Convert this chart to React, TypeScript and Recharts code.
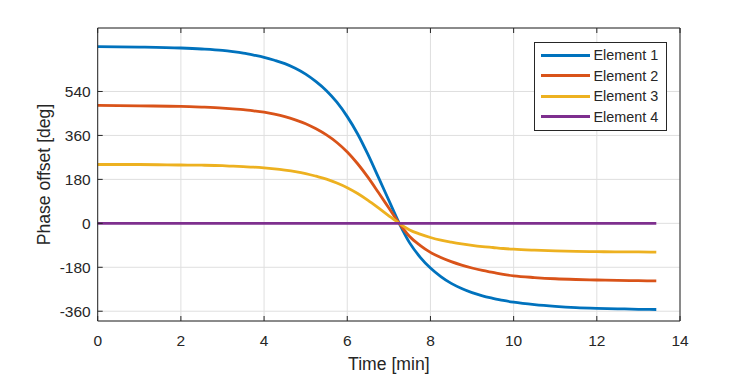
import { LineChart, Line, XAxis, YAxis, CartesianGrid } from 'recharts';

// time axis in minutes
const time = [0, 1, 2, 2.5, 3, 3.25, 3.5, 3.75, 4, 4.25, 4.5, 4.75, 5, 5.25, 5.5, 5.75, 6, 6.25, 6.5, 6.75, 7, 7.25, 7.5, 7.75, 8, 8.25, 8.5, 8.75, 9, 9.25, 9.5, 9.75, 10, 10.5, 11, 11.5, 12, 12.5, 13, 13.43];

// phase offsets, in degrees
const element1 = [724, 722, 718, 714, 708, 703, 697, 689, 680, 668, 654, 635, 611, 580, 543, 496, 437, 366, 281, 188, 94, 0, -80, -138, -183, -218, -246, -267, -284, -297, -307, -316, -323, -333, -340, -345, -348, -350, -352, -353];
const element2 = [483, 481, 479, 476, 472, 469, 466, 461, 455, 447, 437, 424, 408, 387, 362, 331, 292, 244, 188, 126, 63, 0, -54, -90, -119, -140, -157, -171, -183, -193, -201, -209, -215, -222, -227, -230, -232, -234, -235, -236];
const element3 = [241, 241, 239, 238, 236, 234, 232, 230, 227, 223, 218, 212, 204, 193, 181, 165, 146, 122, 94, 63, 31, 0, -27, -44, -58, -69, -77, -84, -90, -95, -99, -103, -106, -110, -113, -115, -116, -117, -117, -118];
const element4 = [0, 0, 0, 0, 0, 0, 0, 0, 0, 0, 0, 0, 0, 0, 0, 0, 0, 0, 0, 0, 0, 0, 0, 0, 0, 0, 0, 0, 0, 0, 0, 0, 0, 0, 0, 0, 0, 0, 0, 0];

const xTicks = [0, 2, 4, 6, 8, 10, 12, 14];
const yTicks = [-360, -180, 0, 180, 360, 540];

const series = [
  { key: 'e1', name: 'Element 1', color: '#0072BD', values: element1 },
  { key: 'e2', name: 'Element 2', color: '#D95319', values: element2 },
  { key: 'e3', name: 'Element 3', color: '#EDB120', values: element3 },
  { key: 'e4', name: 'Element 4', color: '#7E2F8E', values: element4 },
];

const data = time.map((t, i) => {
  const row: Record<string, number> = { t };
  series.forEach((s) => (row[s.key] = s.values[i]));
  return row;
});

const INK = '#262626';
const FONT = '"Liberation Sans", Arial, sans-serif';
const TICK_LEN = 5;

// MATLAB style: ticks point into the plot box
const LeftTick = ({ x, y, payload }: any) => (
  <g>
    <line x1={x} x2={x + TICK_LEN} y1={y} y2={y} stroke={INK} />
    <text x={x - 7} y={y + 5.5} textAnchor="end" fill={INK} fontSize={15.5} fontFamily={FONT}>
      {payload.value}
    </text>
  </g>
);

const BottomTick = ({ x, y, payload }: any) => (
  <g>
    <line x1={x} x2={x} y1={y} y2={y - TICK_LEN} stroke={INK} />
    <text x={x} y={y + 24.5} textAnchor="middle" fill={INK} fontSize={15.5} fontFamily={FONT}>
      {payload.value}
    </text>
  </g>
);

const RightTick = ({ x, y }: any) => <line x1={x} x2={x - TICK_LEN} y1={y} y2={y} stroke={INK} />;
const TopTick = ({ x, y }: any) => <line x1={x} x2={x} y1={y} y2={y + TICK_LEN} stroke={INK} />;

const YTitle = ({ viewBox }: any) => {
  const cx = viewBox.x + viewBox.width - 54;
  const cy = viewBox.y + viewBox.height / 2;
  return (
    <text x={cx} y={cy} transform={`rotate(-90, ${cx}, ${cy})`} textAnchor="middle" dominantBaseline="central" fill={INK} fontSize={17.6} fontFamily={FONT}>
      Phase offset [deg]
    </text>
  );
};

const XTitle = ({ viewBox }: any) => (
  <text x={viewBox.x + viewBox.width / 2} y={viewBox.y + 49} textAnchor="middle" fill={INK} fontSize={17.6} fontFamily={FONT}>
    Time [min]
  </text>
);

export default function App() {
  return (
    <div style={{ position: 'fixed', left: 0, top: 0, width: 750, height: 375, background: '#fff' }}>
      <LineChart width={750} height={375} data={data} margin={{ top: 27, right: 69, bottom: 53, left: 96.7 }}>
        <CartesianGrid xAxisId="b" yAxisId="l" stroke="#dfdfdf" strokeWidth={1} />
        <XAxis xAxisId="b" dataKey="t" type="number" domain={[0, 14]} ticks={xTicks} height={1}
          axisLine={{ stroke: INK }} tickLine={false} tickSize={0} tickMargin={0} tick={<BottomTick />}
          label={<XTitle />} interval={0} />
        <XAxis xAxisId="top" orientation="top" dataKey="t" type="number" domain={[0, 14]} ticks={xTicks} height={1}
          axisLine={{ stroke: INK }} tickLine={false} tickSize={0} tickMargin={0} tick={<TopTick />} interval={0} />
        <YAxis yAxisId="l" type="number" domain={[-400, 800]} ticks={yTicks} width={1}
          axisLine={{ stroke: INK }} tickLine={false} tickSize={0} tickMargin={0} tick={<LeftTick />}
          label={<YTitle />} interval={0} />
        <YAxis yAxisId="r" orientation="right" type="number" domain={[-400, 800]} ticks={yTicks} width={1}
          axisLine={{ stroke: INK }} tickLine={false} tickSize={0} tickMargin={0} tick={<RightTick />} interval={0} />
        {series.map((s) => (
          <Line key={s.key} xAxisId="b" yAxisId="l" dataKey={s.key} name={s.name} type="monotone"
            stroke={s.color} strokeWidth={2.8} dot={false} isAnimationActive={false} />
        ))}
      </LineChart>
      <div style={{ position: 'absolute', left: 534, top: 42, width: 131, height: 85, border: `1px solid ${INK}`,
        background: '#fff', boxSizing: 'content-box', paddingTop: 2, fontFamily: FONT, fontSize: 14.4, color: INK }}>
        {series.map((s) => (
          <div key={s.key} style={{ display: 'flex', alignItems: 'center', height: 20.5 }}>
            <div style={{ marginLeft: 5.5, width: 49, height: 3, background: s.color }} />
            <span style={{ marginLeft: 4 }}>{s.name}</span>
          </div>
        ))}
      </div>
    </div>
  );
}
